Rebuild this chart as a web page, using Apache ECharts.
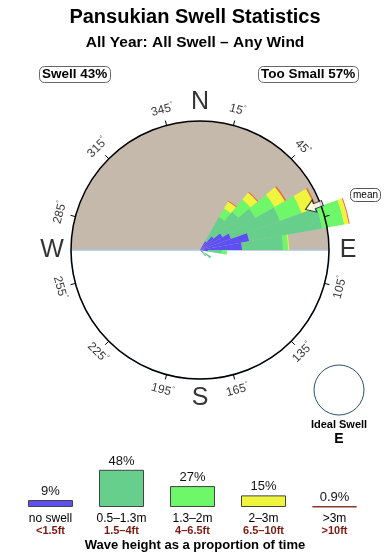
<!DOCTYPE html>
<html>
<head>
<meta charset="utf-8">
<script src="https://cdn.jsdelivr.net/npm/echarts@6/dist/echarts.min.js"></script>
<style>
html,body{margin:0;padding:0;background:#fff;}
#chart{width:390px;height:560px;}
</style>
</head>
<body>
<div id="chart"></div>
<script>
// ---------- data ----------
const TITLE = 'Pansukian Swell Statistics';
const SUBTITLE = 'All Year: All Swell \u2013 Any Wind';
const SWELL_TEXT = 'Swell 43%';
const TOO_SMALL_TEXT = 'Too Small 57%';
const IDEAL_TEXT = 'Ideal Swell';
const IDEAL_DIR = 'E';
const MEAN_TEXT = 'mean';
const MEAN_DIR = 69;           // degrees (compass)
const ROSE_MAX = 129;          // value at the circle edge

// 36 direction bins, 10 degrees wide (centre angles)
const DIR_BINS = [5,15,25,35,45,55,65,75,85,95,105,115,125,135,145,155,165,175,
                  185,195,205,215,225,235,245,255,265,275,285,295,305,315,325,335,345,355];
// stacked segment lengths per bin (same units as ROSE_MAX)
const ROSE_NO_SWELL = [0,0,0,10,18,26,33,50,42,8,0,0,4,3,0,0,0,0, 0,0,0,0,0,0,0,0,0,0,0,0,0,0,0,0,0,0];
const ROSE_B1 =       [0,0,0,28,32,38,52,74,41,14,0,0,9,5,0,0,0,0, 0,0,0,0,0,0,0,0,0,0,0,0,0,0,0,0,0,0];
const ROSE_B2 =       [0,0,0,10,16,22,23,22.5,5,5,0,0,0,0,0,0,0,0, 0,0,0,0,0,0,0,0,0,0,0,0,0,0,0,0,0,0];
const ROSE_B3 =       [0,0,0,8,9,12,14.5,4.5,1,0,0,0,0,0,0,0,0,0, 0,0,0,0,0,0,0,0,0,0,0,0,0,0,0,0,0,0];
const ROSE_B4 =       [0,0,0,1,1,1.5,1.5,1,0,0,0,0,0,0,0,0,0,0, 0,0,0,0,0,0,0,0,0,0,0,0,0,0,0,0,0,0];

const DEG_LABELS = [15,45,105,135,165,195,225,255,285,315,345];
const CARDINALS = ['N','E','S','W'];
const CARDINAL_DEG = [0,90,180,270];

const BAND_NAMES = ['no swell','0.5\u20131.3m','1.3\u20132m','2\u20133m','>3m'];
const BAND_FT = ['<1.5ft','1.5\u20134ft','4\u20136.5ft','6.5\u201310ft','>10ft'];
const BAND_PCT = [9,48,27,15,0.9];
const BAND_PCT_LABELS = ['9%','48%','27%','15%','0.9%'];
const LEGEND_TITLE = 'Wave height as a proportion of time';

// ---------- styles ----------
const BAND_COLORS = ['#5d4ff2','#66cf8c','#6ef768','#eef53c','#8a3a2a'];
const ROSE_COLORS = ['#5d4ff2','#66cf8c','#6ef768','#eef53c','#ee6a3a'];
const FONT = 'Liberation Sans, Arial, Helvetica, sans-serif';
const CX = 200, CY = 250, R = 129;

const chart = echarts.init(document.getElementById('chart'), null, {renderer:'canvas'});

const roseData = [ROSE_NO_SWELL, ROSE_B1, ROSE_B2, ROSE_B3, ROSE_B4];
const roseSeries = roseData.map((arr, i) => ({
  type: 'bar',
  coordinateSystem: 'polar',
  polarIndex: 0,
  stack: 'rose',
  data: arr,
  barCategoryGap: '0%',
  clip: false,
  silent: true,
  z: 3,
  itemStyle: { color: ROSE_COLORS[i] }
}));

function degLabel(a){
  let rot = (a > 90 && a < 270) ? 180 - a : -a;
  if (a >= 270) rot = 360 - a;
  return {
    value: [145, a],
    label: {
      show: true, position: 'inside', rotate: rot,
      formatter: '{v|' + a + '}{d|\u00b0}',
      rich: {
        v: { fontSize: 12, fontFamily: FONT, color: '#000' },
        d: { fontSize: 7, fontFamily: FONT, color: '#000', padding: [0,0,7,0] }
      }
    }
  };
}

const option = {
  animation: false,
  backgroundColor: '#fff',
  title: [
    { text: TITLE, left: 'center', top: 7, padding: 0,
      textStyle: { fontFamily: FONT, fontSize: 20, fontWeight: 'bold', color: '#000' } },
    { text: SUBTITLE, left: 'center', top: 35, padding: 0,
      textStyle: { fontFamily: FONT, fontSize: 15.5, fontWeight: 'bold', color: '#000' } },
    { text: SWELL_TEXT, left: 39, top: 66, padding: [1,3,1,3],
      borderColor: '#666', borderWidth: 1, borderRadius: 5,
      textStyle: { fontFamily: FONT, fontSize: 13.5, fontWeight: 'bold', color: '#000', lineHeight: 15 } },
    { text: TOO_SMALL_TEXT, left: 258, top: 66, padding: [1,3,1,3],
      borderColor: '#666', borderWidth: 1, borderRadius: 5,
      textStyle: { fontFamily: FONT, fontSize: 13.5, fontWeight: 'bold', color: '#000', lineHeight: 15 } },
    { text: MEAN_TEXT, left: 350, top: 188, padding: [1,3,1,3],
      borderColor: '#555', borderWidth: 1, borderRadius: 5,
      textStyle: { fontFamily: FONT, fontSize: 10, fontWeight: 'normal', color: '#000', lineHeight: 12 } },
    { text: IDEAL_TEXT, left: 339, textAlign: 'center', top: 419, padding: 0,
      textStyle: { fontFamily: FONT, fontSize: 11, fontWeight: 'bold', color: '#000' } },
    { text: IDEAL_DIR, left: 339, textAlign: 'center', top: 432, padding: 0,
      textStyle: { fontFamily: FONT, fontSize: 14, fontWeight: 'bold', color: '#000' } },
    { text: LEGEND_TITLE, left: 'center', top: 539, padding: 0,
      textStyle: { fontFamily: FONT, fontSize: 13, fontWeight: 'bold', color: '#000' } }
  ],
  polar: [
    { center: [CX, CY], radius: R },
    { center: [CX, CY], radius: R },
    { center: [CX, CY], radius: R }
  ],
  angleAxis: [
    { polarIndex: 0, type: 'category', data: DIR_BINS, startAngle: 90, clockwise: true,
      z: 6,
      axisLine: { show: true, lineStyle: { color: '#000', width: 1.5 } },
      axisTick: { show: false }, axisLabel: { show: false }, splitLine: { show: false } },
    { polarIndex: 1, type: 'value', min: 0, max: 360, startAngle: 90, clockwise: true,
      show: false },
    { polarIndex: 2, type: 'value', min: 0, max: 360, interval: 30, startAngle: 75, clockwise: true,
      z: 6,
      axisLine: { show: false },
      axisTick: { show: true, length: 5, lineStyle: { color: '#000', width: 1 } },
      axisLabel: { show: false }, splitLine: { show: false } }
  ],
  radiusAxis: [
    { polarIndex: 0, type: 'value', min: 0, max: ROSE_MAX, show: false },
    { polarIndex: 1, type: 'value', min: 0, max: ROSE_MAX, show: false },
    { polarIndex: 2, type: 'value', min: 0, max: ROSE_MAX, show: false }
  ],
  grid: { left: 15, right: 20, top: 445, bottom: 53 },
  xAxis: {
    type: 'category', data: BAND_NAMES,
    axisLine: { show: false }, axisTick: { show: false },
    axisLabel: {
      margin: 6, interval: 0,
      formatter: (v, i) => '{m|' + v + '}\n{f|' + BAND_FT[i] + '}',
      rich: {
        m: { fontFamily: FONT, fontSize: 12, color: '#000', lineHeight: 12 },
        f: { fontFamily: FONT, fontSize: 11, fontWeight: 'bold', color: '#7a1a10', lineHeight: 12 }
      }
    }
  },
  yAxis: { type: 'value', min: 0, max: 80, show: false },
  graphic: [
    { type: 'circle', shape: { cx: 339, cy: 390, r: 25 },
      style: { fill: '#fff', stroke: '#2c4f74', lineWidth: 1 }, silent: true }
  ],
  series: [
    { type: 'pie', center: [CX, CY], radius: R, startAngle: 180, clockwise: true,
      silent: true, z: 0, label: { show: false }, labelLine: { show: false },
      data: [
        { value: 1, itemStyle: { color: '#c5b9ac', borderWidth: 0 } },
        { value: 1, itemStyle: { color: '#ffffff', borderColor: '#a8c6de', borderWidth: 1.5 } }
      ] },
    ...roseSeries,
    { type: 'scatter', coordinateSystem: 'polar', polarIndex: 1, silent: true, z: 4, clip: false,
      symbolSize: 1, itemStyle: { color: 'transparent' },
      data: DEG_LABELS.map(degLabel) },
    { type: 'scatter', coordinateSystem: 'polar', polarIndex: 1, silent: true, z: 4, clip: false,
      symbolSize: 1, itemStyle: { color: 'transparent' },
      label: { show: true, position: 'inside', fontFamily: FONT, fontSize: 25, color: '#000',
               formatter: p => p.data.name },
      data: CARDINALS.map((c, i) => ({ name: c, value: [148, CARDINAL_DEG[i]] })) },
    { type: 'scatter', coordinateSystem: 'polar', polarIndex: 1, silent: true, z: 7, clip: false,
      symbol: 'path://M6,0 L12,8 L8.5,8 L8.5,15 L3.5,15 L3.5,8 L0,8 Z',
      symbolSize: [13, 18], symbolRotate: 180 - MEAN_DIR,
      itemStyle: { color: '#fff', borderColor: '#000', borderWidth: 1 },
      data: [[122, MEAN_DIR]] },
    { type: 'bar', data: BAND_PCT.map((v, i) => ({
        value: v,
        itemStyle: { color: BAND_COLORS[i], borderColor: i === 4 ? BAND_COLORS[i] : '#444', borderWidth: i === 4 ? 1.5 : 1 }
      })),
      barWidth: 45, silent: true,
      label: { show: true, position: 'top', distance: 2, fontFamily: FONT, fontSize: 13, color: '#111',
               formatter: p => BAND_PCT_LABELS[p.dataIndex] } }
  ]
};
chart.setOption(option);
</script>
</body>
</html>
